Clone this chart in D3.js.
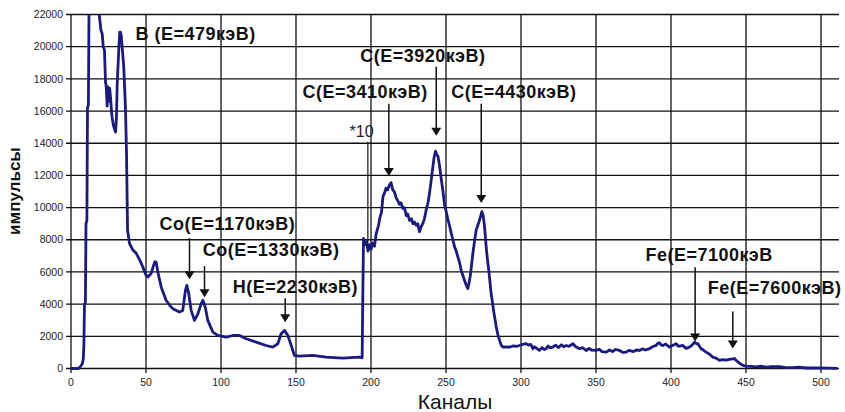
<!DOCTYPE html>
<html>
<head>
<meta charset="utf-8">
<script src="https://cdn.jsdelivr.net/npm/d3@7"></script>
<style>
  body { margin: 0; background: #fff; }
  svg { display: block; }
</style>
</head>
<body>
<div id="chart"></div>
<script>
// spectrum (channel -> counts)
const channels = [
  0, 5, 6.5, 7.5, 8.2, 8.6, 9, 9.6, 10, 10.6, 11, 11.6, 12.2, 15, 18, 18.8,
  20, 20.8, 21.5, 22.3, 23, 23.5, 24.1, 24.6, 25.2, 25.8, 26.3, 27, 27.4, 28.3, 29.7,
  30.3, 30.8, 31.9, 32.5, 33, 33.6, 34.1, 35.2, 36.3, 37, 37.7, 39, 41, 43.5, 46, 47.9,
  50, 51.2, 53.4, 55, 56, 56.8, 57.9, 60.1, 63.4, 66, 67.9, 72.3, 74.5, 76.3, 77.2, 78.5,
  80.1, 82.3, 84.6, 86.8, 87.9, 89.5, 91.2, 94.6, 97.9, 103.5, 107.9, 112.3, 116.8, 123.4,
  130.1, 134.5, 137.9, 140.1, 142.3, 144.6, 146.8, 149, 152.3, 161.2, 170, 181.1, 192.3, 194.1,
  194.5, 195, 196, 197, 198, 199, 200, 201, 202.3, 203.5, 205, 206, 207, 208, 209, 210, 211,
  212.3, 213.4, 214.5, 215.5, 216.8, 218, 219, 220, 221.2, 222.3, 223.5, 224.5, 225.7, 227,
  227.9, 229, 230.1, 231.2, 232.3, 233.4, 234.5, 235.6, 236.8, 238, 239, 240, 241.2, 242, 243,
  243.8, 244.6, 245.7, 246.8, 248, 249, 250, 251.2, 252.3, 253.5, 254.6, 255.7, 256.8, 257.9,
  259, 260.1, 261.2, 262.3, 263.4, 264.6, 265.3, 266.1, 267, 267.9, 269, 270.1, 271.2, 272.3,
  273.2, 273.9, 274.8, 275.7, 276.8, 277.6, 278.5, 279.3, 280.1, 281, 281.7, 282.6, 283.5,
  284.6, 285.7, 286.8, 287.9, 290, 292.3, 295, 297, 299, 301, 303.4, 305, 306.5, 307.9, 309,
  310.5, 312.3, 314, 315.5, 316.8, 318, 319.5, 321.2, 323, 325, 327, 328.5, 330.1, 332, 334.6,
  336.5, 339, 341, 343.4, 345.5, 347, 350.1, 352, 354, 356.8, 359, 361, 363, 365.7, 368, 370.1,
  372, 375, 377, 379, 381, 383, 385.7, 387.5, 390.1, 391, 392.3, 393.5, 394.6, 396.5, 399, 401,
  403.4, 405, 407.9, 410, 412.3, 414, 415.7, 416.8, 417.9, 419, 420.1, 421.5, 423.4, 425.5,
  427.9, 430, 432.3, 434.5, 436.8, 439, 441.2, 442.3, 443.4, 445, 446.8, 448.5, 450.1, 453,
  456.8, 460, 463.4, 467, 472.3, 476, 481.2, 485, 490.1, 495, 499, 505, 511
];
const counts = [
  0, 0, 150, 300, 600, 1500, 4000, 4100, 9000, 9200, 16200, 16400, 25000, 32000, 24000, 22000,
  21000, 20800, 20000, 19800, 17800, 17500, 16300, 17500, 16600, 17400, 16900, 16000, 15600, 15100, 14700,
  15600, 17700, 19900, 20900, 20900, 20600, 20000, 18700, 16200, 13400, 8600, 7770, 7400, 7160, 6700, 6310,
  5800, 5690, 5900, 6400, 6630, 6600, 6000, 5070, 4240, 3900, 3720, 3510, 3610, 4860, 5170, 4650,
  3610, 2990, 3400, 4030, 4240, 3820, 2990, 2260, 2057, 1950, 2050, 2050, 1850, 1640,
  1430, 1330, 1540, 2160, 2370, 2050, 1430, 810, 770, 810, 706, 645, 706, 667,
  4200, 8080, 7700, 7900, 7300, 7700, 7400, 7800, 7600, 8400, 8900, 9400, 9700, 10700, 10900, 11200, 11100,
  11400, 11550, 11100, 11000, 10600, 10400, 10200, 10300, 9950, 10000, 9500, 9600, 9200, 9300,
  9000, 9100, 8900, 9000, 8500, 8800, 9000, 9300, 9850, 10300, 10900, 11600, 12500, 13100, 13500,
  13300, 13200, 12600, 11800, 11000, 10200, 9800, 9300, 8900, 8400, 8000, 7560, 7300, 6940,
  6600, 6100, 5800, 5480, 5200, 4970, 5300, 5700, 6400, 7150, 7900, 8600, 8900, 9200,
  9500, 9750, 9500, 8800, 7560, 6800, 6100, 5400, 4660, 4100, 3600, 3100, 2580,
  2100, 1750, 1450, 1330, 1350, 1330, 1400, 1380, 1430, 1500, 1540, 1450, 1500, 1230, 1350,
  1250, 1130, 1300, 1180, 1230, 1400, 1280, 1330, 1450, 1300, 1480, 1350, 1430, 1380, 1540,
  1350, 1230, 1300, 1120, 1250, 1150, 1120, 1200, 1050, 1020, 1150, 1050, 1180, 1120, 1000, 1020,
  1130, 1050, 1150, 1120, 1220, 1150, 1230, 1350, 1434, 1550, 1600, 1450, 1430, 1520, 1330, 1430,
  1540, 1380, 1434, 1250, 1330, 1450, 1640, 1550, 1540, 1380, 1230, 1150, 1016, 900,
  706, 650, 500, 550, 520, 560, 600, 620, 500, 380, 250, 180, 145, 130,
  100, 140, 90, 120, 110, 70, 60, 80, 30, 40, 30, 20, 10
];

const xTicks = [0, 50, 100, 150, 200, 250, 300, 350, 400, 450, 500];
const yTicks = [0, 2000, 4000, 6000, 8000, 10000, 12000, 14000, 16000, 18000, 20000, 22000];

// peak labels: text, label anchor (channel, counts), arrow channel, arrow top, arrow tip
const labelTexts = [
  "В  (E=479кэВ)", "C(E=3410кэВ)", "C(E=3920кэВ)", "C(E=4430кэВ)",
  "Co(E=1170кэВ)", "Co(E=1330кэВ)", "H(E=2230кэВ)", "Fe(E=7100кэВ", "Fe(E=7600кэВ)"
];
const labelX = [43, 154.3, 192.8, 253.5, 59, 87.9, 107.9, 383, 424.5];
const labelY = [20440, 16830, 19070, 16830, 8600, 6980, 4675, 6690, 4610];
const arrowX = [null, 211.9, 243.5, 273.5, 79, 89, 142.8, 416.1, 441.2];
const arrowTop = [null, 16450, 18760, 16450, 8100, 6360, 4360, 6295, 3550];
const arrowTip = [null, 11965, 14460, 10280, 5550, 4425, 2870, 1680, 1250];

const W = 845, H = 412;
const svg = d3.select("#chart").append("svg")
  .attr("width", W)
  .attr("height", H)
  .style("font-family", "'Liberation Sans', Arial, sans-serif");

const x = d3.scaleLinear().domain([0, 512]).range([71, 839]);
const y = d3.scaleLinear().domain([0, 22000]).range([368.5, 14.5]);

// grid
svg.append("g")
  .selectAll("line")
  .data(yTicks)
  .join("line")
  .attr("x1", 66).attr("x2", 839)
  .attr("y1", d => y(d)).attr("y2", d => y(d))
  .attr("stroke", "#111").attr("stroke-width", 1.3);

svg.append("g")
  .selectAll("line")
  .data(xTicks)
  .join("line")
  .attr("x1", d => x(d)).attr("x2", d => x(d))
  .attr("y1", y(22000)).attr("y2", 373)
  .attr("stroke", "#111").attr("stroke-width", 1.3);

// tick labels
svg.append("g")
  .selectAll("text")
  .data(yTicks)
  .join("text")
  .attr("x", 63)
  .attr("y", d => y(d))
  .attr("dy", "0.35em")
  .attr("text-anchor", "end")
  .style("font-size", "10.5px")
  .style("fill", "#222")
  .text(d => d);

svg.append("g")
  .selectAll("text")
  .data(xTicks)
  .join("text")
  .attr("x", d => x(d))
  .attr("y", 382)
  .attr("dy", "0.35em")
  .attr("text-anchor", "middle")
  .style("font-size", "10.5px")
  .style("fill", "#222")
  .text(d => d);

// axis titles
svg.append("text")
  .attr("transform", "translate(20, 191) rotate(-90)")
  .attr("text-anchor", "middle")
  .style("font-size", "17px")
  .style("font-weight", "bold")
  .style("fill", "#111")
  .text("импульсы");

svg.append("text")
  .attr("x", 455)
  .attr("y", 409)
  .attr("text-anchor", "middle")
  .style("font-size", "21px")
  .style("fill", "#111")
  .text("Каналы");

// spectrum line
svg.append("clipPath").attr("id", "plot-clip")
  .append("rect")
  .attr("x", 71).attr("y", y(22000))
  .attr("width", 768).attr("height", y(0) - y(22000) + 2);

const data = channels.map((c, i) => ({ ch: c, n: counts[i] }));
const line = d3.line().x(d => x(d.ch)).y(d => y(d.n));

svg.append("path")
  .datum(data)
  .attr("clip-path", "url(#plot-clip)")
  .attr("d", line)
  .attr("fill", "none")
  .attr("stroke", "#1a1a80")
  .attr("stroke-width", 2.8)
  .attr("stroke-linejoin", "round");

// peak labels and arrows
const ann = svg.append("g");
labelTexts.forEach((t, i) => {
  ann.append("text")
    .attr("x", x(labelX[i]))
    .attr("y", y(labelY[i]))
    .style("font-size", "18px")
    .style("font-weight", "bold")
    .style("letter-spacing", "0.5px")
    .style("fill", "#111")
    .text(t);
  if (arrowX[i] == null) return;
  const ax = x(arrowX[i]);
  const tip = y(arrowTip[i]);
  ann.append("line")
    .attr("x1", ax).attr("x2", ax)
    .attr("y1", y(arrowTop[i])).attr("y2", tip - 6)
    .attr("stroke", "#111").attr("stroke-width", 1.5);
  ann.append("path")
    .attr("d", `M${ax - 5},${tip - 8}L${ax + 5},${tip - 8}L${ax},${tip}Z`)
    .attr("fill", "#111");
});

// the "*10" mark where the scale changes
svg.append("text")
  .attr("x", x(185.7))
  .attr("y", y(14400))
  .style("font-size", "16px")
  .style("fill", "#222")
  .text("*10");
svg.append("line")
  .attr("x1", x(197.9)).attr("x2", x(197.9))
  .attr("y1", y(14085)).attr("y2", y(7790))
  .attr("stroke", "#222").attr("stroke-width", 1.3);
</script>
</body>
</html>
